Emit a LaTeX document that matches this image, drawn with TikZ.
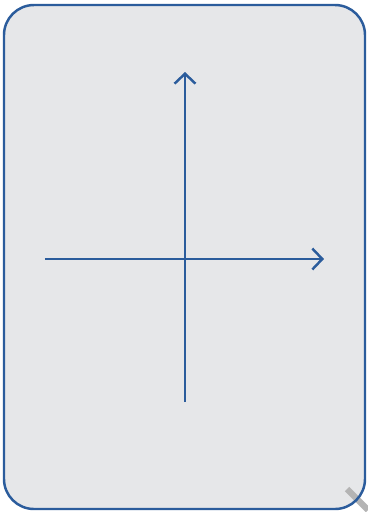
\documentclass[tikz,border=0pt]{standalone}
\usetikzlibrary{arrows.meta}
\definecolor{axisblue}{HTML}{2B5C9C}
\definecolor{panelgrey}{HTML}{E6E7E9}
\definecolor{gripgrey}{HTML}{B4B4B4}
\tikzset{
    frame/.style={draw=axisblue, line width=1.4pt, rounded corners=0.6cm},
    axis/.style={draw=axisblue, line width=1.4pt, -{Straight Barb[length=2mm, width=4.2mm, line width=1.4pt]}},
}
\begin{document}
\begin{tikzpicture}[x=0.02cm, y=-0.02cm]
    % Fix the page size
    \useasboundingbox (0,0) rectangle (368,512);
    \fill[white] (0,0) rectangle (368,512);

    % Panel fill, then the resize grip, then the border over it
    \fill[panelgrey, rounded corners=0.6cm] (4,5) rectangle (365,509);
    \draw[gripgrey, line width=3.5pt] (347,489) -- (368,510);
    \draw[frame] (4,5) rectangle (365,509);

    % Axes
    \coordinate (xstart) at (45,259);
    \coordinate (xend) at (324,259);
    \coordinate (ystart) at (185,402);
    \coordinate (yend) at (185,72);
    \draw[axis] (xstart) -- (xend);
    \draw[axis] (ystart) -- (yend);
\end{tikzpicture}
\end{document}
